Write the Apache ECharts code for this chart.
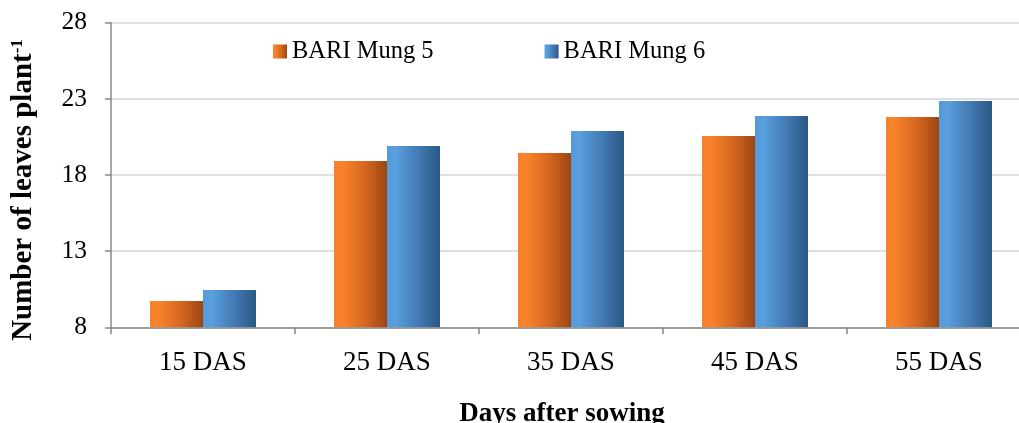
<!DOCTYPE html>
<html>
<head>
<meta charset="utf-8">
<script src="https://cdn.jsdelivr.net/npm/echarts@6/dist/echarts.min.js"></script>
<style>
  html, body { margin: 0; padding: 0; background: #ffffff; }
  #chart { width: 1019px; height: 423px; }
</style>
</head>
<body>
<div id="chart"></div>
<script>
// Leaf count per plant of two mungbean varieties at successive growth stages
const categories = ['15 DAS', '25 DAS', '35 DAS', '45 DAS', '55 DAS'];
const seriesNames = ['BARI Mung 5', 'BARI Mung 6'];
const mung5 = [9.73, 18.92, 19.44, 20.56, 21.81];
const mung6 = [10.45, 19.9, 20.89, 21.87, 22.86];
const yTicks = [8, 13, 18, 23, 28];

const FONT = '"Liberation Serif", "Times New Roman", serif';

function hGrad(stops) {
  return new echarts.graphic.LinearGradient(0, 0, 1, 0,
    stops.map(s => ({ offset: s[0], color: s[1] })));
}
const orangeFill = hGrad([[0, '#F7802A'], [0.15, '#F9842C'], [0.6, '#D4661F'], [1, '#9A4614']]);
const blueFill = hGrad([[0, '#5499DA'], [0.15, '#5AA0E0'], [0.6, '#4279B3'], [1, '#2A5883']]);

const chart = echarts.init(document.getElementById('chart'), null, { renderer: 'canvas' });

chart.setOption({
  backgroundColor: '#ffffff',
  animation: false,
  // the plot area runs a little past the right edge of the canvas
  grid: { left: 111, width: 920, top: 22.7, height: 304.6, containLabel: false, outerBoundsMode: 'none' },
  legend: {
    left: 268, top: 34,
    itemWidth: 14, itemHeight: 14, itemGap: 111,
    icon: 'rect',
    textStyle: { fontFamily: FONT, fontSize: 24.5, color: '#000000' },
    data: seriesNames
  },
  xAxis: {
    type: 'category',
    data: categories,
    axisLine: { lineStyle: { color: '#888888', width: 1.5 } },
    axisTick: { show: true, length: 7, lineStyle: { color: '#888888', width: 1.5 } },
    axisLabel: { fontFamily: FONT, fontSize: 27, color: '#000000', margin: 22 },
    splitLine: { show: false }
  },
  yAxis: {
    type: 'value',
    min: yTicks[0], max: yTicks[yTicks.length - 1], interval: 5,
    axisLine: { show: true, lineStyle: { color: '#888888', width: 1.5 } },
    axisTick: { show: true, length: 6, lineStyle: { color: '#888888', width: 1.5 } },
    axisLabel: { fontFamily: FONT, fontSize: 25.5, color: '#000000', margin: 24 },
    splitLine: { show: true, lineStyle: { color: '#d4d4d4', width: 1.5 } }
  },
  graphic: [
    {
      type: 'text',
      x: 24, y: 190,
      rotation: Math.PI / 2,
      style: {
        text: '{a|Number of leaves plant}{b|-1}',
        fill: '#000000',
        align: 'center',
        verticalAlign: 'middle',
        rich: {
          a: { fontFamily: FONT, fontSize: 29, fontWeight: 'bold', fill: '#000000' },
          b: { fontFamily: FONT, fontSize: 17, fontWeight: 'bold', fill: '#000000', verticalAlign: 'top' }
        }
      }
    },
    {
      type: 'text',
      x: 562, y: 414,
      style: {
        text: 'Days after sowing',
        fontFamily: FONT, fontSize: 27, fontWeight: 'bold', fill: '#000000',
        align: 'center', verticalAlign: 'middle'
      }
    }
  ],
  series: [
    {
      name: seriesNames[0], type: 'bar', data: mung5,
      barWidth: 53, barGap: '0%',
      itemStyle: { color: orangeFill }
    },
    {
      name: seriesNames[1], type: 'bar', data: mung6,
      barWidth: 53, barGap: '0%',
      itemStyle: { color: blueFill }
    }
  ]
});
</script>
</body>
</html>
